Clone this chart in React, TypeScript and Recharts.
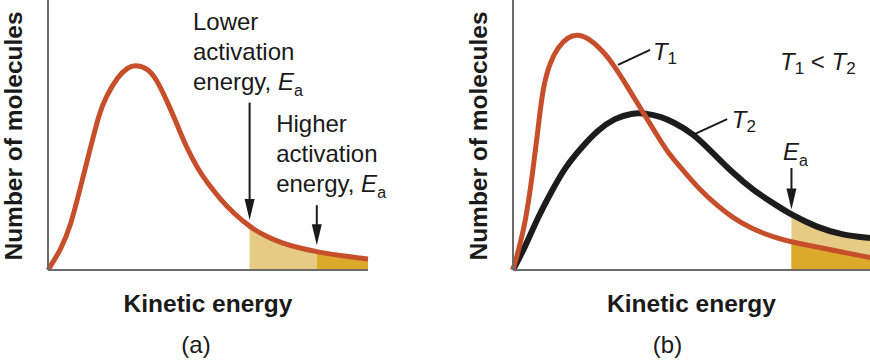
import React from "react"
import { Area, ComposedChart, Line, ReferenceDot, ReferenceLine, XAxis, YAxis } from "recharts"

const FONT = '"Liberation Sans", Arial, Helvetica, sans-serif'
const ORANGE = "#c64e2b"
const BLACK = "#1c1c1c"
const LIGHT_GOLD = "#e6cb84"
const DARK_GOLD = "#dcaa2b"
const AXIS = "#6b6b6b"
const TEXT = "#1a1a1a"

// panel (a): one distribution, two activation energies
const energyA = [0, 4, 7, 10, 13, 16, 18, 22, 25, 27, 31, 34, 37, 40, 43, 47, 50, 54, 58, 63, 68, 73, 78, 84, 92, 100]
const moleculesA = [0, 7.5, 16, 30, 44, 58, 64, 72, 75, 76, 75, 70.5, 63, 55, 46, 37, 32, 26, 21, 16, 12.5, 10, 8.3, 6.7, 5.2, 4.1]
const lowEa = 63
const highEa = 84

// panel (b): two temperatures, one activation energy
const energyT1 = [0, 3.4, 5.6, 7, 8.4, 10.4, 12.6, 15.4, 18, 21, 25, 28.6, 32, 36, 40, 43.4, 47.6, 52.4, 57, 61.6, 66.4, 72.8, 78, 85, 92, 100]
const moleculesT1 = [0, 16, 37, 52, 68, 77, 82.6, 86.3, 87.4, 86, 81.5, 75.2, 68, 59.3, 50.7, 43.3, 37, 29.6, 24.1, 19.3, 15.6, 12.2, 10.4, 8.5, 6.7, 4.6]
const energyT2 = [0, 3.4, 7, 11, 14.6, 19.3, 23.8, 28.6, 33.3, 37, 41.7, 44.8, 50.4, 56, 61.6, 67.2, 72.8, 78, 85, 92, 100]
const moleculesT2 = [0, 8.5, 19.6, 29.6, 38.1, 45.6, 51.9, 56.3, 58.1, 58.1, 56.7, 54.8, 50.7, 43.3, 35.9, 29.6, 24.8, 20.4, 15.9, 13, 11.8]
const eaB = 78

const toPoints = (xs: number[], ys: number[]) => xs.map((e, i) => ({ e, n: ys[i] }))

const curveA = toPoints(energyA, moleculesA)
const curveT1 = toPoints(energyT1, moleculesT1)
const curveT2 = toPoints(energyT2, moleculesT2)

const valueAt = (pts: { e: number; n: number }[], e: number) => pts.find((p) => p.e === e)?.n ?? 0

function arrow(key: string, x: number, top: number, tip: number) {
    return [
        <ReferenceLine
            key={key + "-shaft"}
            segment={[{ x, y: top }, { x, y: tip + 4 }]}
            stroke={TEXT}
            strokeWidth={2}
            ifOverflow="visible"
        />,
        <ReferenceDot
            key={key + "-head"}
            x={x}
            y={tip}
            r={1}
            ifOverflow="visible"
            shape={(p: any) => (
                <polygon
                    points={`${p.cx - 5},${p.cy - 21} ${p.cx + 5},${p.cy - 21} ${p.cx},${p.cy}`}
                    fill={TEXT}
                />
            )}
        />,
    ]
}

function note(key: string, x: number, y: number, draw: (cx: number, cy: number) => React.ReactElement) {
    return (
        <ReferenceDot
            key={key}
            x={x}
            y={y}
            r={1}
            ifOverflow="visible"
            shape={(p: any) => draw(p.cx, p.cy)}
        />
    )
}

const Ea = () => (
    <>
        <tspan fontStyle="italic">E</tspan>
        <tspan fontSize={16} dy={6}>a</tspan>
    </>
)

function eaBlock(first: string) {
    return (cx: number, cy: number) => (
        <text x={cx} y={cy} fontSize={24} fill={TEXT} fontFamily={FONT}>
            <tspan x={cx} y={cy}>{first}</tspan>
            <tspan x={cx} y={cy + 30}>activation</tspan>
            <tspan x={cx} y={cy + 60}>
                energy,{" "}
                <Ea />
            </tspan>
        </text>
    )
}

const yLabel = (props: any) => {
    const vb = props.viewBox
    const x = vb.x + vb.width - 26
    const y = 136
    return (
        <text
            x={x}
            y={y}
            transform={`rotate(-90 ${x} ${y})`}
            textAnchor="middle"
            fontSize={24.5}
            fontWeight="bold"
            fill={TEXT}
            fontFamily={FONT}
        >
            Number of molecules
        </text>
    )
}

const xLabel = (caption: string, captionShift: number) => (props: any) => {
    const vb = props.viewBox
    const mid = vb.x + vb.width / 2
    return (
        <g>
            <text x={mid} y={312} textAnchor="middle" fontSize={24.5} fontWeight="bold" fill={TEXT} fontFamily={FONT}>
                Kinetic energy
            </text>
            <text x={mid + captionShift} y={353} textAnchor="middle" fontSize={24} fill={TEXT} fontFamily={FONT}>
                {caption}
            </text>
        </g>
    )
}

export default function App() {
    const lightA = curveA.filter((p) => p.e >= lowEa && p.e <= highEa)
    const darkA = curveA.filter((p) => p.e >= highEa)
    const lightB = curveT2.filter((p) => p.e >= eaB)
    const darkB = curveT1.filter((p) => p.e >= eaB)

    return (
        <div style={{ position: "absolute", left: 0, top: 0, width: 870, height: 362, background: "#fff", overflow: "hidden" }}>
            <div style={{ position: "absolute", left: 0, top: 0 }}>
                <ComposedChart width={435} height={362} margin={{ top: 0, right: 67, bottom: 91, left: 47 }}>
                    <XAxis
                        type="number"
                        dataKey="e"
                        domain={[0, 100]}
                        height={1}
                        tick={false}
                        tickLine={false}
                        axisLine={{ stroke: AXIS, strokeWidth: 2 }}
                        label={{ content: xLabel("(a)", -12) }}
                    />
                    <YAxis
                        type="number"
                        dataKey="n"
                        domain={[0, 100]}
                        width={1}
                        tick={false}
                        tickLine={false}
                        axisLine={{ stroke: AXIS, strokeWidth: 2 }}
                        label={{ content: yLabel }}
                    />
                    <Area data={lightA} dataKey="n" type="basis" fill={LIGHT_GOLD} fillOpacity={1} stroke="none" isAnimationActive={false} />
                    <Area data={darkA} dataKey="n" type="basis" fill={DARK_GOLD} fillOpacity={1} stroke="none" isAnimationActive={false} />
                    <Line data={curveA} dataKey="n" type="basis" stroke={ORANGE} strokeWidth={5} dot={false} activeDot={false} isAnimationActive={false} />
                    {arrow("low", lowEa, 62, valueAt(curveA, lowEa) + 2.5)}
                    {arrow("high", highEa, 24, valueAt(curveA, highEa) + 2.5)}
                    {note("lowText", 45.3, 88.9, eaBlock("Lower"))}
                    {note("highText", 71.3, 51.1, eaBlock("Higher"))}
                </ComposedChart>
            </div>
            <div style={{ position: "absolute", left: 435, top: 0 }}>
                <ComposedChart width={435} height={362} margin={{ top: 0, right: 0, bottom: 91, left: 77 }}>
                    <XAxis
                        type="number"
                        dataKey="e"
                        domain={[0, 100]}
                        height={1}
                        tick={false}
                        tickLine={false}
                        axisLine={{ stroke: AXIS, strokeWidth: 2 }}
                        label={{ content: xLabel("(b)", -24) }}
                    />
                    <YAxis
                        type="number"
                        dataKey="n"
                        domain={[0, 100]}
                        width={1}
                        tick={false}
                        tickLine={false}
                        axisLine={{ stroke: AXIS, strokeWidth: 2 }}
                        label={{ content: yLabel }}
                    />
                    <Area data={lightB} dataKey="n" type="basis" fill={LIGHT_GOLD} fillOpacity={1} stroke="none" isAnimationActive={false} />
                    <Area data={darkB} dataKey="n" type="basis" fill={DARK_GOLD} fillOpacity={1} stroke="none" isAnimationActive={false} />
                    <Line data={curveT2} dataKey="n" type="basis" stroke={BLACK} strokeWidth={6} dot={false} activeDot={false} isAnimationActive={false} />
                    <Line data={curveT1} dataKey="n" type="basis" stroke={ORANGE} strokeWidth={5} dot={false} activeDot={false} isAnimationActive={false} />
                    <ReferenceLine segment={[{ x: 29.4, y: 76 }, { x: 38.4, y: 81.5 }]} stroke={TEXT} strokeWidth={2} ifOverflow="visible" />
                    <ReferenceLine segment={[{ x: 51, y: 50.4 }, { x: 60, y: 55.9 }]} stroke={TEXT} strokeWidth={2} ifOverflow="visible" />
                    {arrow("ea", eaB, 37.8, valueAt(curveT2, eaB) + 2)}
                    {note("t1", 39.2, 77.8, (cx, cy) => (
                        <text x={cx} y={cy} fontSize={24} fill={TEXT} fontFamily={FONT}>
                            <tspan fontStyle="italic">T</tspan>
                            <tspan fontSize={17} dy={4}>1</tspan>
                        </text>
                    ))}
                    {note("t2", 61.3, 52.6, (cx, cy) => (
                        <text x={cx} y={cy} fontSize={24} fill={TEXT} fontFamily={FONT}>
                            <tspan fontStyle="italic">T</tspan>
                            <tspan fontSize={17} dy={4}>2</tspan>
                        </text>
                    ))}
                    {note("cmp", 74.8, 74, (cx, cy) => (
                        <text x={cx} y={cy} fontSize={24} fill={TEXT} fontFamily={FONT}>
                            <tspan fontStyle="italic">T</tspan>
                            <tspan fontSize={17} dy={4}>1</tspan>
                            <tspan dy={-4}> {"<"} </tspan>
                            <tspan fontStyle="italic">T</tspan>
                            <tspan fontSize={17} dy={4}>2</tspan>
                        </text>
                    ))}
                    {note("eaText", 75.6, 40.7, (cx, cy) => (
                        <text x={cx} y={cy} fontSize={24} fill={TEXT} fontFamily={FONT}>
                            <Ea />
                        </text>
                    ))}
                </ComposedChart>
            </div>
        </div>
    )
}
